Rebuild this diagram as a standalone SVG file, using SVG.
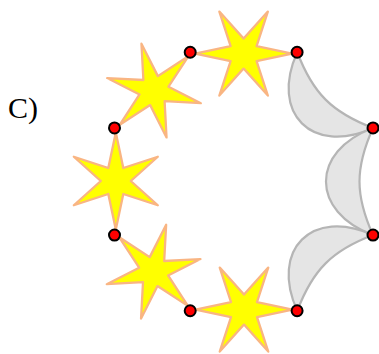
<svg xmlns="http://www.w3.org/2000/svg" xmlns:xlink="http://www.w3.org/1999/xlink" width="379" height="354" viewBox="0 0 379 354">
<style>
.star{fill:#ffff00;stroke:#f9b583;stroke-width:2.3;stroke-linejoin:round}
.lune{fill:#e5e5e5;stroke:#b5b5b5;stroke-width:2.2;stroke-linejoin:round}
.dot{fill:#ff0000;stroke:#000000;stroke-width:2}
.lbl{font-family:"Liberation Serif","DejaVu Serif",serif;font-size:30px;fill:#000}
</style>
<defs>
<path id="star6" d="M48.5,0 L12.99,7.5 L24.25,42 L0,15 L-24.25,42 L-12.99,7.5 L-48.5,0 L-12.99,-7.5 L-24.25,-42 L0,-15 L24.25,-42 L12.99,-7.5 Z"/>
<path id="luneCD" d="M373,127.95 C310.3,151.45 310.3,211.55 373,235.05 C355,195.05 355,167.95 373,127.95 Z"/>
</defs>
<text class="lbl" x="8" y="118">C)</text>
<g id="connectors">
<g id="lune-BC"><use xlink:href="#luneCD" class="lune" transform="rotate(-45 243.75 181.5)"/></g>
<g id="lune-CD"><use xlink:href="#luneCD" class="lune"/></g>
<g id="lune-DE"><use xlink:href="#luneCD" class="lune" transform="rotate(45 243.75 181.5)"/></g>
<g id="star-AB"><use xlink:href="#star6" class="star" transform="translate(243.6 53.6)"/></g>
<g id="star-HA"><use xlink:href="#star6" class="star" transform="translate(154 90.6) rotate(-45)"/></g>
<g id="star-HG"><use xlink:href="#star6" class="star" transform="translate(115.8 181) rotate(90)"/></g>
<g id="star-GF"><use xlink:href="#star6" class="star" transform="translate(153.6 271.6) rotate(45)"/></g>
<g id="star-FE"><use xlink:href="#star6" class="star" transform="translate(244 309.6)"/></g>
</g>
<g id="nodeA"><circle class="dot" cx="190.2" cy="52.25" r="5.5"/></g>
<g id="nodeB"><circle class="dot" cx="297.1" cy="52.25" r="5.5"/></g>
<g id="nodeC"><circle class="dot" cx="373" cy="127.95" r="5.5"/></g>
<g id="nodeD"><circle class="dot" cx="373" cy="235.05" r="5.5"/></g>
<g id="nodeE"><circle class="dot" cx="297.1" cy="310.75" r="5.5"/></g>
<g id="nodeF"><circle class="dot" cx="190.2" cy="310.75" r="5.5"/></g>
<g id="nodeG"><circle class="dot" cx="114.5" cy="235.05" r="5.5"/></g>
<g id="nodeH"><circle class="dot" cx="114.5" cy="127.95" r="5.5"/></g>
</svg>
